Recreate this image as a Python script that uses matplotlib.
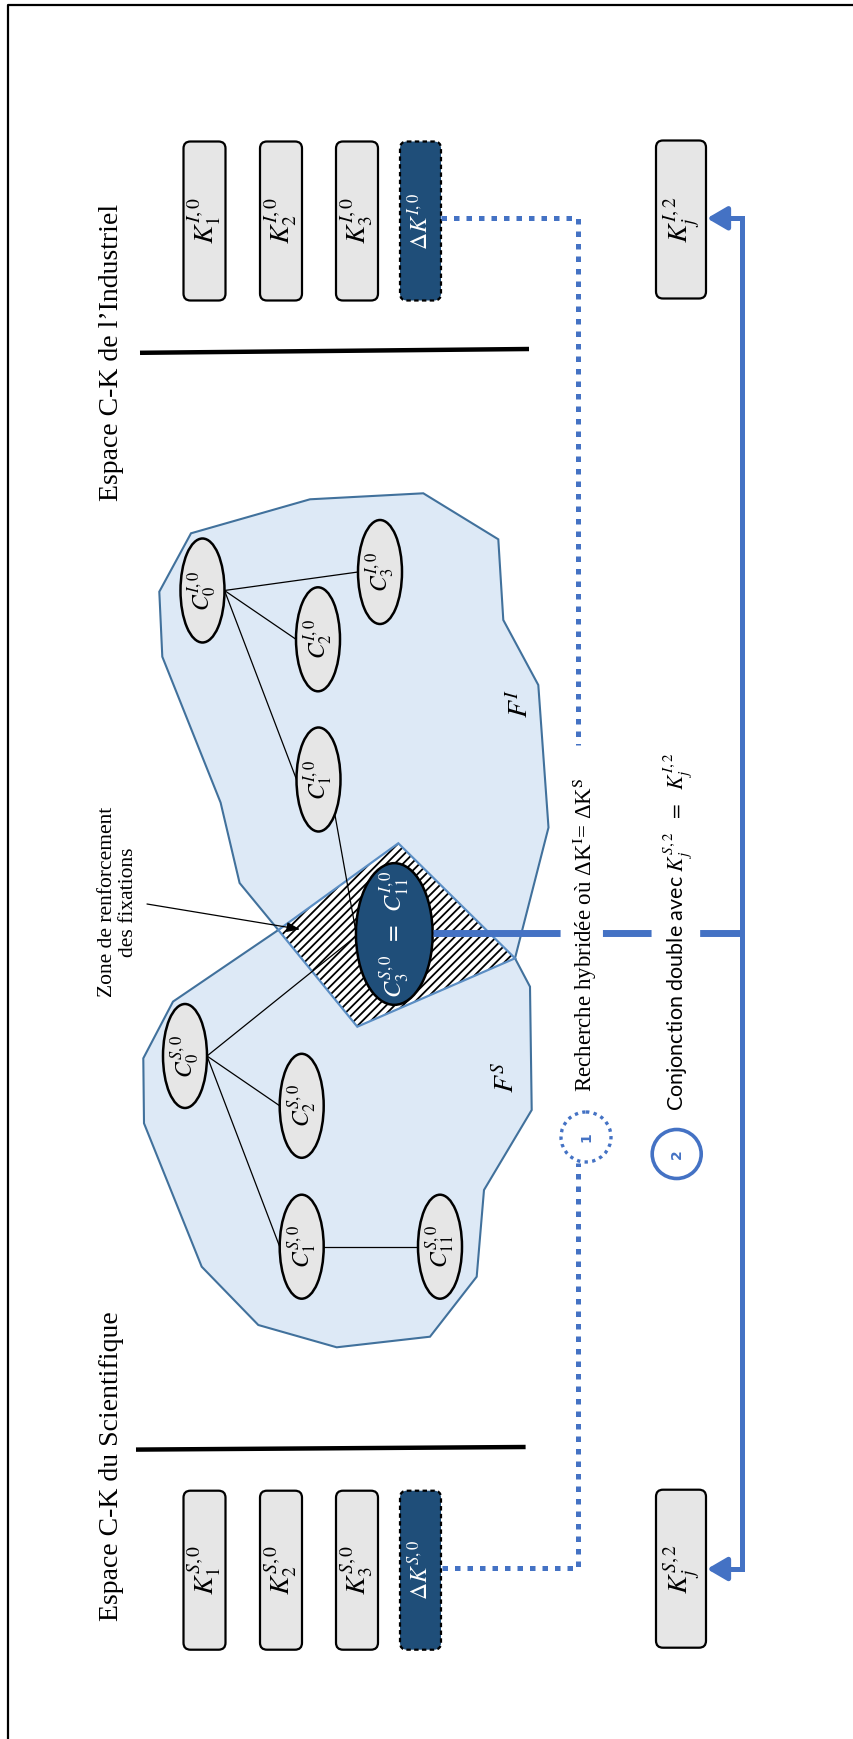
"""
Espace C-K : Scientifique / Industriel, recherche hybride (schema pivote).
"""
import matplotlib
matplotlib.use("Agg")
import matplotlib.pyplot as plt
from matplotlib.patches import Ellipse, Polygon, FancyBboxPatch, Circle

plt.rcParams['mathtext.fontset'] = 'stix'
plt.rcParams['hatch.linewidth'] = 1.3

BLUE = "#4472c4"
DARK = "#1f4e79"
GREY = "#e6e6e6"
LIGHT = "#dde9f6"
EDGE = "#41719c"
SERIF = "Liberation Serif"

# textes
titles = ["Espace C-K de l’Industriel", "Espace C-K du Scientifique"]
k_labels_I = [r"$K_1^{I,0}$", r"$K_2^{I,0}$", r"$K_3^{I,0}$", r"$\Delta K^{I,0}$"]
k_labels_S = [r"$K_1^{S,0}$", r"$K_2^{S,0}$", r"$K_3^{S,0}$", r"$\Delta K^{S,0}$"]
kj_labels = [r"$K_j^{I,2}$", r"$K_j^{S,2}$"]
c_labels_I = [r"$C_0^{I,0}$", r"$C_1^{I,0}$", r"$C_2^{I,0}$", r"$C_3^{I,0}$"]
c_labels_S = [r"$C_0^{S,0}$", r"$C_1^{S,0}$", r"$C_2^{S,0}$", r"$C_{11}^{S,0}$"]
c_shared = r"$C_3^{S,0}\;\;=\;\;C_{11}^{I,0}$"
f_labels = [r"$F^I$", r"$F^S$"]
zone_label = "Zone de renforcement\ndes fixations"
step1 = "Recherche hybridée où ΔK$^{\\mathrm{I}}$= ΔK$^{\\mathrm{S}}$"
step2 = "Conjonction double avec $K_j^{S,2}$  $=$  $K_j^{I,2}$"

# arbres de concepts : noeud -> position, puis aretes
c_pos_I = [(202.5, 590.5), (318.5, 779.5), (318, 639.3), (380, 572)]
c_pos_S = [(185, 1056), (301.7, 1246.7), (301.7, 1105.8), (440, 1246.7)]
c_shared_pos = (394.3, 934)
edges_I = [(0, 3), (0, 2), (0, 1)]
edges_S = [(0, 2), (0, 1), (1, 3)]

# contours des espaces F
f_I = [(278.3, 930), (239.6, 883), (220.6, 802.6), (162.3, 656.7), (159.3, 591.7),
       (191, 533.3), (310, 499.3), (423.3, 493.3), (498.3, 539.3), (503.3, 620),
       (538.3, 685), (548.5, 827.5), (515, 958.3)]
f_S = [(278.3, 930), (173, 1001.6), (143.3, 1058.3), (144, 1123.3), (201.7, 1266.7),
       (258.3, 1325), (336.7, 1347.3), (430, 1336.7), (476.7, 1276.7), (484, 1190),
       (531.7, 1110), (530, 986.7), (515, 958.3)]
zone = [(398.3, 843.3), (515, 958.3), (357.3, 1026.7), (278.3, 930)]

fig = plt.figure(figsize=(8.54, 17.39), dpi=100)
ax = fig.add_axes([0, 0, 1, 1])
ax.set_xlim(0, 854)
ax.set_ylim(1739, 0)
ax.axis("off")

# cadre
ax.plot([8, 8, 854], [1739, 5, 5], color="black", lw=1.6, zorder=1)

# espaces F
ax.add_patch(Polygon(f_I, closed=True, fc=LIGHT, ec=EDGE, lw=1.5, zorder=1))
ax.add_patch(Polygon(f_S, closed=True, fc=LIGHT, ec=EDGE, lw=1.5, zorder=1))
ax.add_patch(Polygon(zone, closed=True, fc="white", ec="black", lw=0, hatch="////", zorder=2))
ax.add_patch(Polygon(zone, closed=True, fill=False, ec="#5b8ec4", lw=1.6, zorder=2))
ax.text(520, 703, f_labels[0], rotation=90, ha="center", va="center", fontsize=20, zorder=5)
ax.text(506, 1077, f_labels[1], rotation=90, ha="center", va="center", fontsize=20, zorder=5)

# aretes des arbres
EW, EH = 44, 104
for pos, edges in [(c_pos_I, edges_I), (c_pos_S, edges_S)]:
    for a, b in edges:
        (xa, ya), (xb, yb) = pos[a], pos[b]
        ax.plot([xa + EW / 2, xb - EW / 2], [ya, yb], color="black", lw=0.9, zorder=3)
sx, sy = c_shared_pos
ax.plot([328.6, sx - 38], [779.5, sy], color="black", lw=0.9, zorder=3)
ax.plot([c_pos_S[0][0] + EW / 2, sx - 38], [c_pos_S[0][1], sy + 2], color="black", lw=0.9, zorder=3)

# noeuds
for pos, labels in [(c_pos_I, c_labels_I), (c_pos_S, c_labels_S)]:
    for (x, y), lab in zip(pos, labels):
        ax.add_patch(Ellipse((x, y), EW, EH, fc=GREY, ec="black", lw=1.8, zorder=4))
        ax.text(x, y, lab, rotation=90, ha="center", va="center", fontsize=17, zorder=5)
ax.add_patch(Ellipse(c_shared_pos, 76.7, 141.7, fc=DARK, ec="black", lw=1.8, zorder=4))
ax.text(sx, sy, c_shared, rotation=90, ha="center", va="center", fontsize=17.5,
        color="white", zorder=5)

# bases de connaissances
def kbox(x, y, w, h, label, face="#e6e6e6", tc="black", ls="-", size=20):
    ax.add_patch(FancyBboxPatch((x, y), w, h, boxstyle="round,pad=0,rounding_size=7",
                                fc=face, ec="black", lw=1.6, ls=ls, zorder=4))
    ax.text(x + w / 2, y + h / 2, label, rotation=90, ha="center", va="center",
            fontsize=size, color=tc, zorder=5)

k_x = [183.5, 260, 336, 400]
for top, labels in [(141.5, k_labels_I), (1490.7, k_labels_S)]:
    for i, (x, lab) in enumerate(zip(k_x, labels)):
        if i == 3:
            kbox(x, top, 41, 159, lab, face=DARK, tc="white", ls=(0, (2, 1.5)), size=17)
        else:
            kbox(x, top, 42, 159, lab)
    kbox(656, top - 1, 50, 158, kj_labels[0] if top < 500 else kj_labels[1])

# titres et separateurs
ax.text(112, 352, titles[0], rotation=90, ha="center", va="center", fontsize=20,
        family=SERIF)
ax.text(112, 1466, titles[1], rotation=90, ha="center", va="center", fontsize=20,
        family=SERIF)
ax.plot([140, 529], [352.8, 349], color="black", lw=3.2, solid_capstyle="butt")
ax.plot([136, 525.6], [1449.6, 1447], color="black", lw=3.2, solid_capstyle="butt")

# zone de renforcement
ax.text(118, 902, zone_label, rotation=90, ha="center", va="center", fontsize=15.5,
        family=SERIF, multialignment="center", linespacing=1.1)
ax.annotate("", xy=(300, 929.3), xytext=(147, 904),
            arrowprops=dict(arrowstyle="-|>,head_length=0.8,head_width=0.3",
                            color="black", lw=0.9, shrinkA=0, shrinkB=0), zorder=6)

# liens bleus
dots = (0, (1.1, 1.4))
ax.plot([441, 577.7, 577.7], [218.3, 218.3, 745], color=BLUE, lw=3.6, ls=dots, zorder=6)
ax.plot([441.7, 577.7, 577.7], [1567.7, 1567.7, 1163], color=BLUE, lw=3.6, ls=dots, zorder=6)
ax.plot([725, 742, 742, 725], [218.3, 218.3, 1569, 1569], color=BLUE, lw=3.6,
        solid_joinstyle="miter", zorder=6)
for y in [218.3, 1569]:
    ax.annotate("", xy=(707, y), xytext=(726, y),
                arrowprops=dict(arrowstyle="-|>,head_length=1.2,head_width=0.7",
                                color=BLUE, lw=3.6, shrinkA=0, shrinkB=0), zorder=6)
ax.plot([432.7, 742], [933.3, 933.3], color=BLUE, lw=5, ls=(0, (18.3, 6.1, 7.0, 7.0)),
        zorder=6)

# etapes
ax.add_patch(Circle((586, 1137), 25, fill=False, ec=BLUE, lw=2.4, ls=(0, (1, 1.3)), zorder=6))
ax.text(586, 1137, "1", rotation=90, ha="center", va="center", fontsize=10,
        color=BLUE, fontweight="bold", zorder=6)
ax.add_patch(Circle((676.7, 1154), 24.5, fill=False, ec=BLUE, lw=2.6, zorder=6))
ax.text(676.7, 1154, "2", rotation=90, ha="center", va="center", fontsize=10,
        color=BLUE, fontweight="bold", zorder=6)
ax.text(585, 935, step1, rotation=90, ha="center", va="center", fontsize=16.5,
        family=SERIF)
ax.text(678, 932, step2, rotation=90, ha="center", va="center", fontsize=15.5,
        family="Lato")

fig.savefig("out.png", dpi=100)
